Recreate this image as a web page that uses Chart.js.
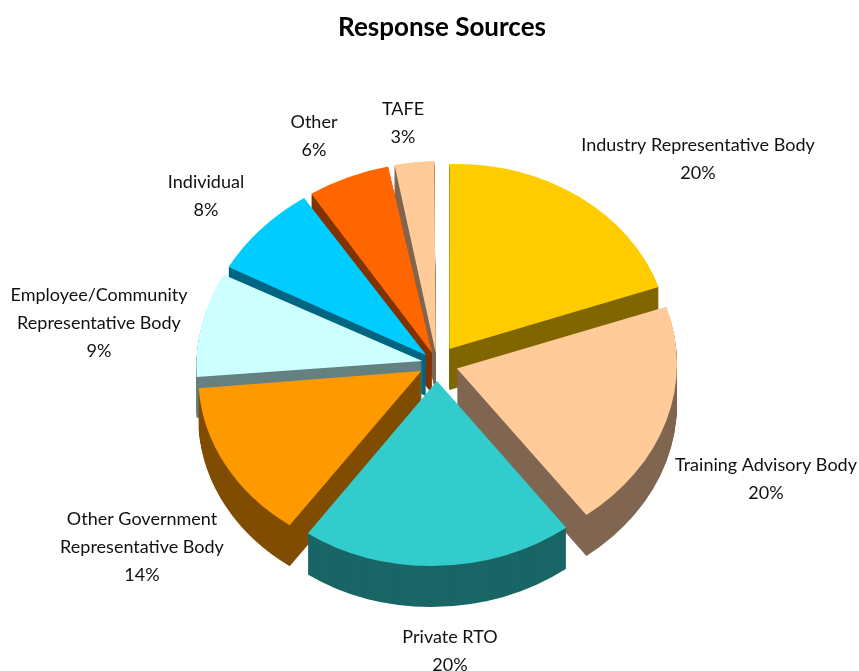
<!DOCTYPE html>
<html>
<head>
<meta charset="utf-8">
<title>Response Sources</title>
<script src="https://cdn.jsdelivr.net/npm/chart.js@4"></script>
<style>
    html, body { margin: 0; padding: 0; background: #fff; }
    canvas { display: block; }
</style>
</head>
<body>
<canvas id="sources" width="859" height="671"></canvas>
<script>
const categories = [
    ['Industry Representative Body'],
    ['Training Advisory Body'],
    ['Private RTO'],
    ['Other Government', 'Representative Body'],
    ['Employee/Community', 'Representative Body'],
    ['Individual'],
    ['Other'],
    ['TAFE']
];
const shares = [20, 20, 20, 14, 9, 8, 6, 3];

const faceColors = ['#ffcc00', '#ffcc99', '#33cccc', '#ff9900', '#ccffff', '#00ccff', '#ff6600', '#ffcc99'];
const sideColors = ['#806600', '#806650', '#1a6666', '#804d00', '#668080', '#006680', '#803300', '#806650'];

// centre of each label block on the canvas
const labelCentres = [[698, 159], [766, 479], [450, 651], [142, 547], [99, 323], [206, 196], [314, 136], [403, 123]];

const pieCentre = { x: 437, y: 363.4 };
const tilt = 0.84;
const skew = -0.022;   // left side sits lower than the right
const pieDepth = 41;
const explodeGap = 22;
const labelFont = '18px Lato';
const labelLineHeight = 28;

// arc.draw moves a slice by offset/4 * (2 - sin(sweep)), so undo that to get an even gap
function sliceOffset(context) {
    const sweep = shares[context.dataIndex] / 100 * Math.PI * 2;
    return explodeGap * 4 / (2 - Math.sin(sweep));
}

function applyTilt(ctx, arc) {
    ctx.translate(pieCentre.x, pieCentre.y);
    ctx.transform(1, skew, 0, tilt, 0, 0);
    ctx.translate(-arc.x, -arc.y);
}

const tiltedPie = {
    id: 'tiltedPie',
    beforeDatasetsDraw(chart) {
        const ctx = chart.ctx;
        const arcs = chart.getDatasetMeta(0).data;
        const midY = arc => Math.sin((arc.startAngle + arc.endAngle) / 2);
        const order = arcs.map((arc, i) => i).sort((a, b) => midY(arcs[a]) - midY(arcs[b]));

        ctx.save();
        applyTilt(ctx, arcs[0]);

        // the walls: repeat each slice downwards in its dark colour, back slices first
        order.forEach(i => {
            const arc = arcs[i];
            const faceOptions = arc.options;
            arc.options = Object.create(faceOptions, {
                backgroundColor: { value: sideColors[i] }
            });
            for (let d = pieDepth; d >= 1; d--) {
                ctx.save();
                ctx.translate(0, d / tilt);
                arc.draw(ctx);
                ctx.restore();
            }
            arc.options = faceOptions;
        });
    },
    afterDatasetsDraw(chart) {
        chart.ctx.restore();
    },
    afterDraw(chart) {
        const ctx = chart.ctx;
        ctx.save();
        ctx.font = labelFont;
        ctx.fillStyle = '#111';
        ctx.textAlign = 'center';
        ctx.textBaseline = 'middle';
        categories.forEach((lines, i) => {
            const rows = lines.concat(shares[i] + '%');
            const top = labelCentres[i][1] - (rows.length - 1) * labelLineHeight / 2;
            rows.forEach((row, r) => {
                ctx.fillText(row, labelCentres[i][0], top + r * labelLineHeight);
            });
        });
        ctx.restore();
    }
};

new Chart(document.getElementById('sources'), {
    type: 'pie',
    data: {
        labels: categories,
        datasets: [{
            data: shares,
            backgroundColor: faceColors,
            borderWidth: 0,
            offset: sliceOffset
        }]
    },
    options: {
        responsive: false,
        animation: false,
        radius: 219,
        layout: { padding: { left: 25 } },
        plugins: {
            legend: { display: false },
            tooltip: { enabled: false },
            title: {
                display: true,
                text: 'Response Sources',
                color: '#000',
                font: { family: 'Lato', size: 26, weight: 'bold' },
                padding: { top: 12, bottom: 10 }
            }
        }
    },
    plugins: [tiltedPie]
});
</script>
</body>
</html>
